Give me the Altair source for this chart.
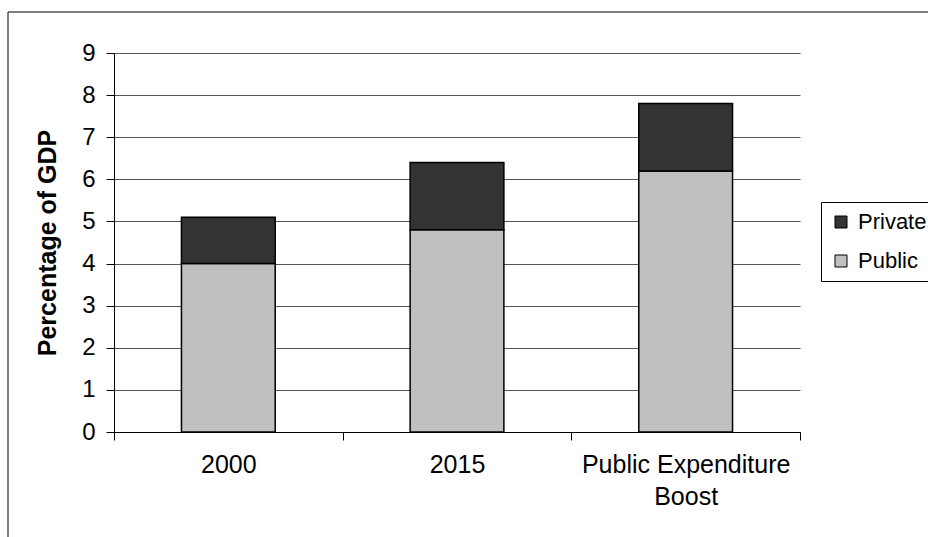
import altair as alt
import pandas as pd

categories = ["2000", "2015", "Public Expenditure Boost"]
public = [4.0, 4.8, 6.2]
private = [1.1, 1.6, 1.6]
series = ["Private", "Public"]
colors = ["#333333", "#c0c0c0"]
y_ticks = list(range(0, 10))

rows = []
for c, pu, pr in zip(categories, public, private):
    rows.append({"cat": c, "series": "Public", "value": pu, "ord": 0})
    rows.append({"cat": c, "series": "Private", "value": pr, "ord": 1})
df = pd.DataFrame(rows)

W, H = 686, 379
PAD_L, PAD_T = 114, 53
FONT = "Liberation Sans"

frame = alt.Chart(alt.Data(values=[{"a": 1}])).mark_rect(
    fillOpacity=0, stroke="#000000", strokeWidth=1
).encode(
    x=alt.value(8 - PAD_L), x2=alt.value(W + 300),
    y=alt.value(12 - PAD_T), y2=alt.value(H + 300),
)

bars = alt.Chart(df).mark_bar(
    stroke="black", strokeWidth=1.5, width=alt.RelativeBandSize(0.41)
).encode(
    x=alt.X(
        "cat:N", sort=categories,
        scale=alt.Scale(paddingInner=0, paddingOuter=0),
        axis=alt.Axis(
            title=None, labelAngle=0, tickBand="extent", grid=False,
            domainColor="black", tickColor="black", tickSize=8,
            labelFont=FONT, labelFontSize=25, labelColor="black",
            labelPadding=12, labelLineHeight=32, labelBaseline="top",
            labelLimit=400,
            labelExpr="datum.label == 'Public Expenditure Boost' ? ['Public Expenditure', 'Boost'] : datum.label",
        ),
    ),
    y=alt.Y(
        "value:Q", stack="zero",
        scale=alt.Scale(domain=[0, 9], nice=False),
        axis=alt.Axis(
            values=y_ticks, title="Percentage of GDP", format="d",
            grid=True, gridColor="#555555", gridWidth=1,
            domainColor="black", tickColor="black", tickSize=8,
            labelFont=FONT, labelFontSize=24, labelColor="black", labelPadding=11,
            titleFont=FONT, titleFontSize=25, titleFontWeight="bold",
            titleColor="black", titlePadding=21,
        ),
    ),
    color=alt.Color(
        "series:N",
        scale=alt.Scale(domain=series, range=colors),
        legend=alt.Legend(
            title=None, orient="none", legendX=707, legendY=149,
            symbolType="square", symbolSize=144, symbolStrokeColor="black",
            symbolStrokeWidth=1, symbolOpacity=1,
            labelFont=FONT, labelFontSize=22, labelColor="black",
            labelOffset=6, rowPadding=17, padding=9,
            strokeColor="black", fillColor="white",
        ),
    ),
    order=alt.Order("ord:Q"),
)

chart = alt.layer(frame, bars).properties(
    width=W, height=H,
    autosize=alt.AutoSizeParams(type="none"),
    padding={"left": PAD_L, "top": PAD_T, "right": 928 - PAD_L - W, "bottom": 537 - PAD_T - H},
    background="white",
).configure_view(strokeWidth=0)

chart.save("out.html", embed_options={"renderer": "svg", "actions": False})
